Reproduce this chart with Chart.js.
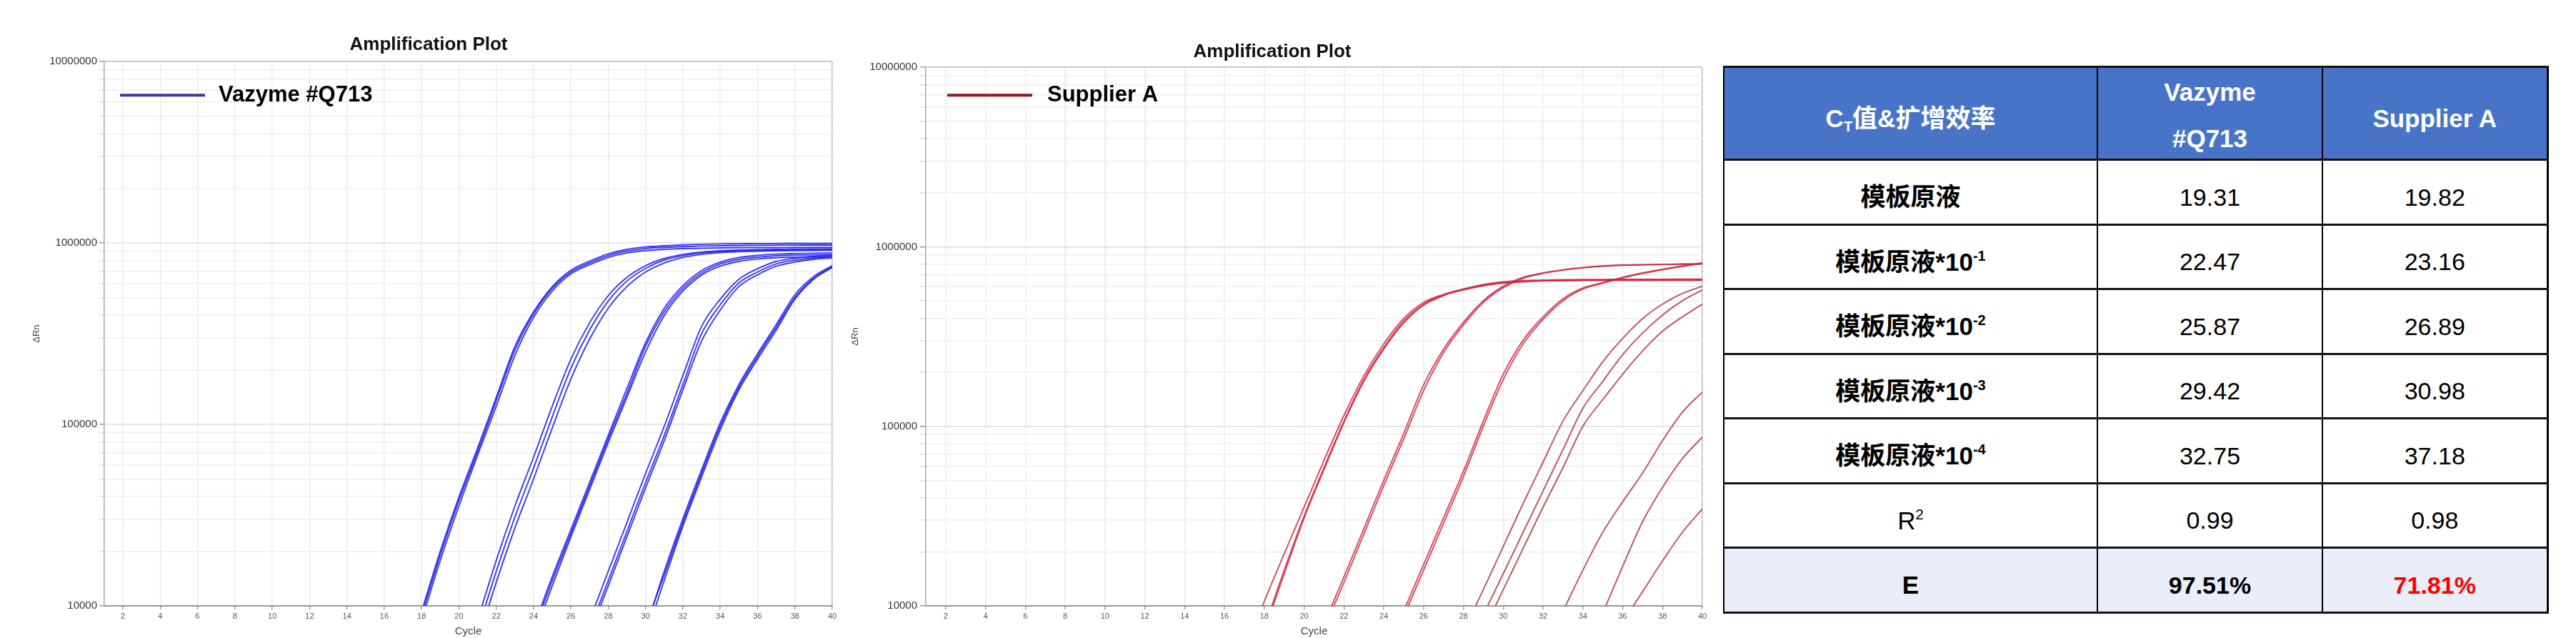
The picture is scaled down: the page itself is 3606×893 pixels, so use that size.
<!DOCTYPE html>
<html>
<head>
<meta charset="utf-8">
<script src="https://cdn.jsdelivr.net/npm/chart.js@4.4.1/dist/chart.umd.min.js"></script>
<style>
html,body{margin:0;padding:0;background:#fff;}
body{width:3606px;height:893px;position:relative;overflow:hidden;font-family:"Liberation Sans","Noto Sans CJK SC",Arial,sans-serif;}
#c1{position:absolute;left:0;top:0;}
#c2{position:absolute;left:1150px;top:0;}
#tbl{position:absolute;left:2412px;top:92px;width:1153px;height:764px;border-collapse:collapse;table-layout:fixed;border:3px solid #000;border-left:2px solid #000;}
#tbl td{border-left:2px solid #000;border-right:2px solid #000;border-top:3px solid #111;border-bottom:3px solid #111;text-align:center;vertical-align:middle;font-size:34px;padding:15px 0 0 0;color:#000;box-sizing:border-box;line-height:1.2;overflow:visible;}
#tbl tr.head td{background:#4874c8;color:#fff;font-weight:bold;height:130px;padding-top:14px;font-size:35px;}
#tbl tr.head td .two{display:inline-block;line-height:65px;margin:-20px 0;}
#tbl tr.body td{height:90.5px;}
#tbl tr.last td{background:#e9eef8;}
#tbl td.lab{font-weight:bold;font-size:35px;}
#tbl td.reg{font-weight:normal;font-size:35px;}
#tbl sup{font-size:20px;vertical-align:14px;line-height:0;}
#tbl sub{font-size:20px;vertical-align:-6px;line-height:0;}
#tbl .red{color:#ff0000;}
#tbl .b{font-weight:bold;}
</style>
</head>
<body>
<canvas id="c1" width="1200" height="893"></canvas>
<canvas id="c2" width="1250" height="893"></canvas>
<table id="tbl">
<colgroup><col style="width:523px"><col style="width:315px"><col style="width:315px"></colgroup>
<tbody id="tb"></tbody>
</table>
<script>
// ---------- axis / tick data ----------
const cycleTicks = [2,4,6,8,10,12,14,16,18,20,22,24,26,28,30,32,34,36,38,40];
const yDecades = [10000, 100000, 1000000, 10000000];
const yMinorMultipliers = [1,2,3,4,5,6,7,8,9];
const seriesNames = ['Vazyme #Q713', 'Supplier A'];

// ---------- Vazyme #Q713 curves (ΔRn per cycle, from start cycle) ----------
const vzStart = [17,17,17,21,21,21,24,24,24,27,27,27,30,30,30];
const vz1a = [4270,8910,19100,38000,70800,135000,257000,407000,562000,692000,776000,851000,902000,933000,946000,955000,962000,966000,968000,971000,973000,973000,975000,975000];
const vz1b = [3980,8320,17800,35500,67600,126000,240000,389000,543000,676000,759000,832000,881000,908000,923000,931000,935000,940000,942000,944000,944000,946000,946000,946000];
const vz1c = [4470,9330,20000,39800,74100,141000,269000,417000,575000,708000,794000,871000,923000,951000,966000,977000,984000,989000,991000,993000,993000,995000,995000,995000];
const vz2a = [7240,15500,30900,57500,110000,204000,331000,479000,617000,724000,804000,851000,881000,897000,908000,912000,916000,918000,920000,923000];
const vz2b = [8320,17800,35500,66100,126000,229000,363000,513000,646000,750000,822000,865000,891000,906000,914000,918000,923000,925000,927000,927000];
const vz2c = [6310,13500,26900,50100,95500,178000,295000,437000,575000,692000,776000,832000,865000,885000,895000,902000,906000,908000,910000,912000];
const vz3a = [7240,13800,25100,45700,83200,148000,269000,417000,562000,684000,767000,813000,836000,851000,857000,861000,863000];
const vz3b = [7590,14500,26300,47900,87100,158000,282000,437000,582000,705000,785000,832000,855000,869000,875000,879000,881000];
const vz3c = [6760,12900,24000,43700,79400,141000,251000,398000,543000,665000,746000,791000,817000,830000,836000,839000,841000];
const vz4a = [7410,13800,25700,47900,87100,166000,316000,457000,603000,692000,767000,804000,828000,841000];
const vz4b = [8320,15500,28800,53700,97700,186000,347000,490000,631000,721000,791000,824000,845000,857000];
const vz4c = [6920,12900,24000,44700,81300,155000,288000,427000,575000,668000,745000,785000,813000,828000];
const vz5a = [7410,15500,30200,56200,102000,166000,245000,355000,519000,653000,750000];
const vz5b = [6760,13800,27500,51300,93300,155000,229000,331000,490000,631000,733000];
const vz5c = [7760,14800,28800,53700,97700,160000,237000,343000,501000,638000,741000];
const vzCurves = [vz1a,vz1b,vz1c,vz2a,vz2b,vz2c,vz3a,vz3b,vz3c,vz4a,vz4b,vz4c,vz5a,vz5b,vz5c];

// ---------- Supplier A curves ----------
const saStart = [17,17,17,21,21,25,25,28,29,29,33,35,36];
const sa1a = [5500,10600,19500,35500,64600,115000,191000,288000,398000,490000,543000,582000,617000,638000,649000,653000,656000,658000,658000,659000,659000,659000,661000,661000];
const sa1b = [3800,7590,15800,31600,58900,107000,182000,275000,385000,479000,537000,578000,610000,631000,641000,646000,647000,649000,649000,649000,650000,650000,650000,650000];
const sa1c = [3630,7240,15100,30900,57500,105000,178000,269000,376000,473000,535000,575000,607000,627000,638000,646000,649000,652000,653000,655000,655000,656000,656000,656000];
const sa2a = [7940,14500,26900,50100,91200,170000,269000,380000,501000,603000,676000,716000,745000,767000,782000,791000,794000,798000,800000,802000];
const sa2b = [7410,13500,25100,46800,85100,158000,257000,367000,490000,592000,668000,711000,741000,764000,780000,789000,794000,798000,802000,804000];
const sa3a = [9330,17000,30900,56200,107000,195000,302000,407000,513000,589000,631000,676000,716000,750000,782000,813000];
const sa3b = [8710,15800,28800,52500,100000,182000,288000,394000,501000,582000,627000,670000,711000,746000,778000,807000];
const sa4a = [7240,12300,21400,37200,63100,107000,158000,229000,309000,398000,479000,550000,603000];
const sa4b = [8910,15100,25700,43700,74100,126000,178000,251000,331000,417000,501000,575000];
const sa4c = [7240,12300,20900,35500,58900,100000,141000,195000,263000,339000,407000,479000];
const sa5a = [9330,15800,25700,38000,55000,83200,120000,155000];
const sa5b = [9120,16600,29500,45700,66100,87100];
const sa5c = [8130,12000,17800,25700,34700];
const saCurves = [sa1a,sa1b,sa1c,sa2a,sa2b,sa3a,sa3b,sa4a,sa4b,sa4c,sa5a,sa5b,sa5c];

// ---------- table data ----------
const tableHeaders = ['C<sub>T</sub>值&amp;扩增效率', '<span class="two">Vazyme<br>#Q713</span>', 'Supplier A'];
const rowLabels = ['模板原液','模板原液*10<sup>-1</sup>','模板原液*10<sup>-2</sup>','模板原液*10<sup>-3</sup>','模板原液*10<sup>-4</sup>','R<sup>2</sup>','E'];
const vazymeCol = ['19.31','22.47','25.87','29.42','32.75','0.99','97.51%'];
const supplierCol = ['19.82','23.16','26.89','30.98','37.18','0.98','71.81%'];

// ---------- build table ----------
(function(){
  const tb = document.getElementById('tb');
  let html = '<tr class="head">' + tableHeaders.map(h => '<td>' + h + '</td>').join('') + '</tr>';
  rowLabels.forEach((lab, i) => {
    const last = i === rowLabels.length - 1;
    const isR2 = lab.indexOf('R<sup>') === 0;
    html += '<tr class="body' + (last ? ' last' : '') + '">' +
      '<td class="' + (isR2 ? 'reg' : 'lab') + '">' + lab + '</td>' +
      '<td class="' + (last ? 'b' : '') + '">' + vazymeCol[i] + '</td>' +
      '<td class="' + (last ? 'b red' : '') + '">' + supplierCol[i] + '</td></tr>';
  });
  tb.innerHTML = html;
})();

// ---------- chart helpers ----------
Chart.defaults.font.family = '"Liberation Sans", Arial, sans-serif';
Chart.defaults.color = '#444';

const insideLegend = {
  id: 'insideLegend',
  afterDraw(chart, args, o) {
    const {ctx, chartArea} = chart;
    const y = chartArea.top + o.dy;
    ctx.save();
    ctx.strokeStyle = o.color;
    ctx.lineWidth = 4;
    ctx.beginPath();
    ctx.moveTo(chartArea.left + o.x0, y);
    ctx.lineTo(chartArea.left + o.x0 + 119, y);
    ctx.stroke();
    ctx.fillStyle = '#000';
    ctx.font = 'bold 31px "Liberation Sans", Arial, sans-serif';
    ctx.textBaseline = 'middle';
    ctx.textAlign = 'left';
    ctx.fillText(o.text, chartArea.left + o.tx, y);
    ctx.restore();
  }
};

function buildYTicks(scale) {
  const t = [];
  yDecades.forEach((d, i) => {
    if (i < yDecades.length - 1) yMinorMultipliers.forEach(m => t.push({value: d * m}));
    else t.push({value: d});
  });
  scale.ticks = t;
}

function makeDatasets(curves, starts, colorFn) {
  return curves.map((vals, i) => ({
    data: vals.map((v, j) => ({x: starts[i] + j, y: v})),
    borderColor: colorFn(i),
    borderWidth: 1.9,
    pointRadius: 0,
    fill: false,
    cubicInterpolationMode: 'monotone'
  }));
}

function makeChart(id, datasets, cfg) {
  return new Chart(document.getElementById(id), {
    type: 'line',
    data: {datasets},
    plugins: [insideLegend],
    options: {
      responsive: false,
      animation: false,
      devicePixelRatio: 1,
      layout: {padding: cfg.padding},
      plugins: {
        legend: {display: false},
        tooltip: {enabled: false},
        title: {
          display: true,
          text: 'Amplification Plot',
          color: '#111',
          font: {size: 26, weight: 'bold'},
          padding: cfg.titlePad
        },
        insideLegend: cfg.legend
      },
      scales: {
        x: {
          type: 'linear',
          min: 1, max: 40,
          afterBuildTicks: s => { s.ticks = cycleTicks.map(v => ({value: v})); },
          afterFit: s => { s.height = 45; },
          ticks: {autoSkip: false, maxRotation: 0, font: {size: 11}, color: '#555', padding: 3},
          grid: {
            color: c => (c.tick && c.tick.value === 40) ? '#b8b8b8' : '#ececec',
            lineWidth: 1.5,
            tickLength: 5,
            tickColor: '#999'
          },
          border: {color: '#999', width: 2},
          title: {display: true, text: 'Cycle', font: {size: 15}, color: '#444', padding: {top: 0, bottom: 0}}
        },
        y: {
          type: 'logarithmic',
          min: 10000, max: 10000000,
          afterBuildTicks: buildYTicks,
          afterFit: s => { s.width = cfg.yWidth; },
          ticks: {
            autoSkip: false,
            font: {size: 15},
            color: '#333',
            padding: cfg.yTickPad,
            callback: v => yDecades.includes(v) ? String(v) : ''
          },
          grid: {
            color: c => {
              const v = c.tick ? c.tick.value : 0;
              if (v === 10000000) return '#b8b8b8';
              return yDecades.includes(v) ? '#dedede' : '#eeeeee';
            },
            lineWidth: 1.5,
            tickLength: cfg.yTickLen,
            tickColor: c => yDecades.includes(c.tick ? c.tick.value : 0) ? '#999' : '#dddddd'
          },
          border: {color: '#aaa', width: 1.5},
          title: {display: true, text: 'ΔRn', font: {size: 13}, color: '#444', padding: {top: cfg.yTitlePad, bottom: 0}}
        }
      }
    }
  });
}

makeChart('c1',
  makeDatasets(vzCurves, vzStart, () => 'rgba(35,35,238,0.9)'),
  {
    padding: {left: 35, right: 35, top: 0, bottom: 0},
    titlePad: {top: 47, bottom: 8},
    yWidth: 111, yTickPad: 3, yTickLen: 7, yTitlePad: 9,
    legend: {x0: 22, dy: 47, tx: 160, color: '#3a3a9e', text: seriesNames[0]}
  });

makeChart('c2',
  makeDatasets(saCurves, saStart, i => i < 7 ? 'rgba(205,32,58,0.82)' : 'rgba(180,50,72,0.85)'),
  {
    padding: {left: 29, right: 17, top: 0, bottom: 0},
    titlePad: {top: 57, bottom: 6},
    yWidth: 117, yTickPad: 4, yTickLen: 8, yTitlePad: 11,
    legend: {x0: 30, dy: 39, tx: 170, color: '#8c1c22', text: seriesNames[1]}
  });
</script>
</body>
</html>
